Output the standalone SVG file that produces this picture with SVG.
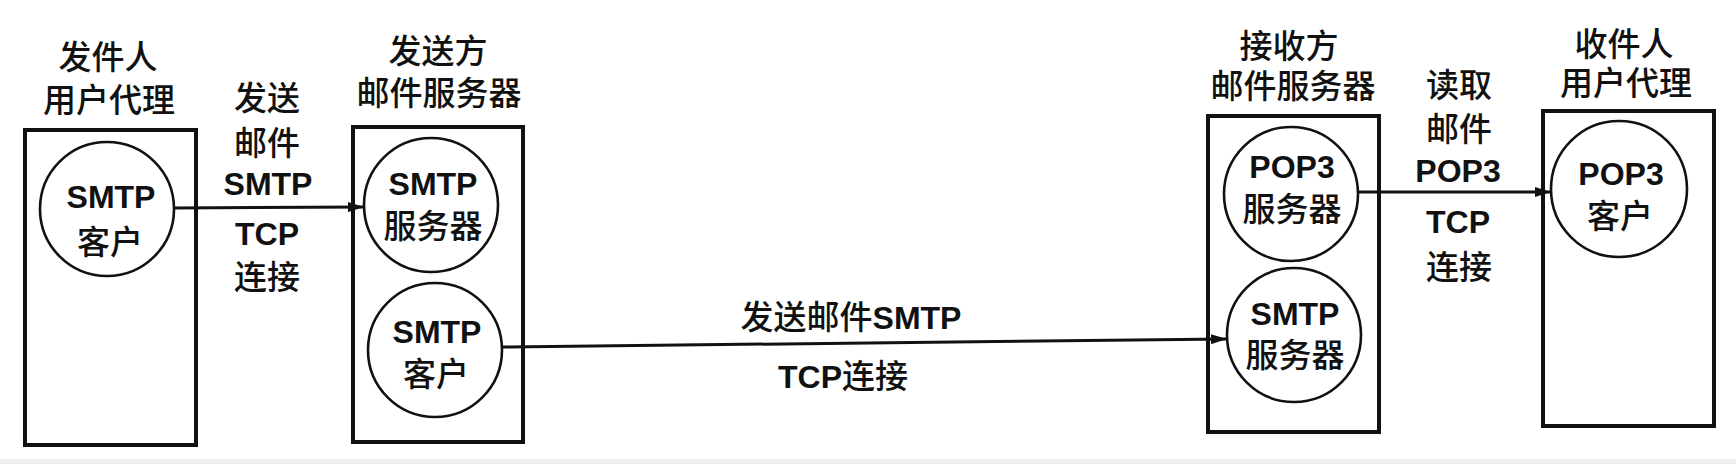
<svg xmlns="http://www.w3.org/2000/svg" width="1736" height="464" viewBox="0 0 1736 464">
<style>
.box{fill:none;stroke:#111;stroke-width:4}
.cir{fill:#fff;stroke:#111;stroke-width:2.6}
.cn{stroke:#111;stroke-width:3;fill:none}
text{fill:#111;text-anchor:middle;font-family:"Liberation Sans","Noto Sans CJK SC",sans-serif}
.zh{font-size:33px;font-weight:500;font-family:"Noto Sans CJK SC",sans-serif}
.la{font-size:32px;font-weight:bold;font-family:"Liberation Sans",sans-serif}
</style>
<defs>
<marker id="ah" markerUnits="userSpaceOnUse" markerWidth="16" markerHeight="10" refX="16" refY="5" orient="auto">
<path d="M0,0 L16,5 L0,10 z" fill="#111"/>
</marker>
</defs>
<rect x="0" y="0" width="1736" height="464" fill="#fff"/>
<rect x="0" y="459" width="1736" height="5" fill="#efefef"/>

<g id="sender-ua">
<text class="zh" x="108" y="69">发件人</text>
<text class="zh" x="109" y="112">用户代理</text>
<rect class="box" x="25" y="130" width="171" height="315"/>
<g id="smtp-client-1">
<circle class="cir" cx="107" cy="209" r="67"/>
<text class="la" x="111" y="208">SMTP</text>
<text class="zh" x="110" y="254">客户</text>
</g>
</g>

<g id="sender-server">
<text class="zh" x="438" y="63">发送方</text>
<text class="zh" x="439" y="105">邮件服务器</text>
<rect class="box" x="353" y="127" width="170" height="315"/>
<g id="smtp-server-1">
<circle class="cir" cx="431" cy="205" r="67"/>
<text class="la" x="433" y="195">SMTP</text>
<text class="zh" x="433" y="238">服务器</text>
</g>
<g id="smtp-client-2">
<circle class="cir" cx="435" cy="350" r="67"/>
<text class="la" x="437" y="343">SMTP</text>
<text class="zh" x="436" y="386">客户</text>
</g>
</g>

<g id="receiver-server">
<text class="zh" x="1289" y="58">接收方</text>
<text class="zh" x="1293" y="98">邮件服务器</text>
<rect class="box" x="1208" y="116" width="171" height="316"/>
<g id="pop3-server">
<circle class="cir" cx="1291" cy="194" r="67"/>
<text class="la" x="1292" y="178">POP3</text>
<text class="zh" x="1292" y="221">服务器</text>
</g>
<g id="smtp-server-2">
<circle class="cir" cx="1294" cy="335" r="67"/>
<text class="la" x="1295" y="325">SMTP</text>
<text class="zh" x="1295" y="367">服务器</text>
</g>
</g>

<g id="receiver-ua">
<text class="zh" x="1624" y="56">收件人</text>
<text class="zh" x="1626" y="95">用户代理</text>
<rect class="box" x="1543" y="111" width="171" height="315"/>
<g id="pop3-client">
<circle class="cir" cx="1619" cy="189" r="68"/>
<text class="la" x="1621" y="185">POP3</text>
<text class="zh" x="1620" y="228">客户</text>
</g>
</g>

<g id="connectors">
<line class="cn" x1="174" y1="208" x2="364" y2="207" marker-end="url(#ah)"/>
<line class="cn" x1="502" y1="347" x2="1227" y2="339" marker-end="url(#ah)"/>
<line class="cn" x1="1358" y1="192" x2="1551" y2="192" marker-end="url(#ah)"/>
<text class="zh" x="267" y="110">发送</text>
<text class="zh" x="267" y="155">邮件</text>
<text class="la" x="268" y="195">SMTP</text>
<text class="la" x="267" y="245">TCP</text>
<text class="zh" x="267" y="289">连接</text>
<text x="851" y="329"><tspan class="zh">发送邮件</tspan><tspan class="la">SMTP</tspan></text>
<text x="843" y="388"><tspan class="la">TCP</tspan><tspan class="zh">连接</tspan></text>
<text class="zh" x="1459" y="97">读取</text>
<text class="zh" x="1459" y="141">邮件</text>
<text class="la" x="1458" y="182">POP3</text>
<text class="la" x="1458" y="233">TCP</text>
<text class="zh" x="1459" y="279">连接</text>
</g>
</svg>
